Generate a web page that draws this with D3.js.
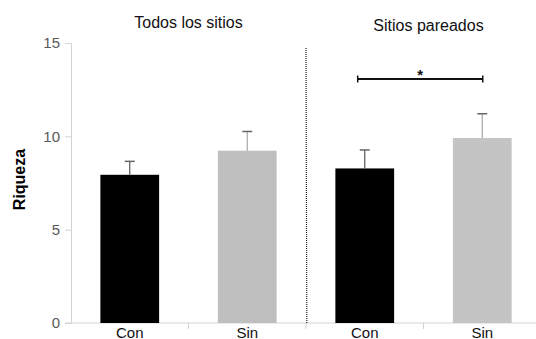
<!DOCTYPE html>
<html><head><meta charset="utf-8">
<script src="https://cdn.jsdelivr.net/npm/d3@7"></script>
<style>html,body{margin:0;padding:0;background:#fff;}svg{display:block;font-family:"Liberation Sans",Arial,sans-serif;}</style>
</head><body>
<svg id="c" width="536" height="339"></svg>
<script>
const categories = ["Con", "Sin", "Con", "Sin"];
const groupTitles = ["Todos los sitios", "Sitios pareados"];
const means = [7.94, 9.23, 8.28, 9.91];
const errors = [0.72, 1.03, 0.99, 1.30];
const yTicks = [0, 5, 10, 15];
const yLabel = "Riqueza";
const sigLabel = "*";
const barColors = ["#000000", "#bfbfbf", "#000000", "#c4c4c4"];

const svg = d3.select("#c");
const keys = categories.map((c, i) => i);
const x = d3.scaleBand().domain(keys).range([71, 541]).paddingInner(0.5).paddingOuter(0.25);
const y = d3.scaleLinear().domain([0, 15]).range([323, 43]);
const step = x.step();
const axisColor = "#d4d4d4";

// y axis
const yAxis = svg.append("g").attr("transform", "translate(71,0)")
  .call(d3.axisLeft(y).tickValues(yTicks).tickSize(6).tickPadding(5));
yAxis.select(".domain").attr("stroke", axisColor);
yAxis.selectAll(".tick line").attr("stroke", axisColor);
yAxis.selectAll("text").attr("fill", "#595959").style("font-size", "15px").style("font-family", "Liberation Sans, Arial, sans-serif");

// x axis line
svg.append("line").attr("x1", 65).attr("x2", 536).attr("y1", y(0)).attr("y2", y(0)).attr("stroke", axisColor);
// ticks between categories
svg.selectAll(".xt").data(keys.slice(1)).enter().append("line")
  .attr("x1", d => x(d) - (step - x.bandwidth()) / 2)
  .attr("x2", d => x(d) - (step - x.bandwidth()) / 2)
  .attr("y1", y(0)).attr("y2", y(0) + 6).attr("stroke", axisColor);

// category labels
svg.selectAll(".xl").data(keys).enter().append("text")
  .attr("x", d => x(d) + x.bandwidth() / 2).attr("y", 337.5)
  .attr("text-anchor", "middle").attr("fill", "#111").style("font-size", "15px")
  .text(d => categories[d]);

// bars
svg.selectAll(".bar").data(keys).enter().append("rect")
  .attr("x", d => x(d)).attr("width", x.bandwidth())
  .attr("y", d => y(means[d])).attr("height", d => y(0) - y(means[d]))
  .attr("fill", d => barColors[d]);

// error bars
keys.forEach(d => {
  const cx = x(d) + x.bandwidth() / 2;
  const stemColor = d % 2 === 0 ? "#555" : "#a6a6a6";
  svg.append("line").attr("x1", cx).attr("x2", cx)
    .attr("y1", y(means[d])).attr("y2", y(means[d] + errors[d]))
    .attr("stroke", stemColor).attr("stroke-width", 1.2);
  svg.append("line").attr("x1", cx - 5).attr("x2", cx + 5)
    .attr("y1", y(means[d] + errors[d])).attr("y2", y(means[d] + errors[d]))
    .attr("stroke", "#666").attr("stroke-width", 1.5);
});

// divider (dotted)
const divX = x(2) - (step - x.bandwidth()) / 2;
svg.append("line").attr("x1", divX).attr("x2", divX + 0.8).attr("y1", 48).attr("y2", y(0))
  .attr("stroke", "#222").attr("stroke-width", 1.2).attr("stroke-dasharray", "1,1");

// group titles
const titleX = [ (x(0) + x(1) + x.bandwidth()) / 2, (x(2) + x(3) + x.bandwidth()) / 2 + 5 ];
const titleY = [27.5, 31];
groupTitles.forEach((t, i) => {
  svg.append("text").attr("x", titleX[i]).attr("y", titleY[i]).attr("text-anchor", "middle")
    .attr("fill", "#111").style("font-size", "16px").text(t);
});

// significance bracket
const bx1 = x(2) + x.bandwidth() * 0.38, bx2 = x(3) + x.bandwidth() / 2 + 0.5;
const by = 79;
svg.append("line").attr("x1", bx1).attr("x2", bx2).attr("y1", by).attr("y2", by).attr("stroke", "#111").attr("stroke-width", 1.8);
[bx1, bx2].forEach(bx => svg.append("line").attr("x1", bx).attr("x2", bx).attr("y1", by - 3.5).attr("y2", by + 3.5).attr("stroke", "#111").attr("stroke-width", 1.5));
svg.append("text").attr("x", (bx1 + bx2) / 2).attr("y", 80).attr("text-anchor", "middle")
  .attr("fill", "#111").style("font-size", "15px").style("font-weight", "bold").text(sigLabel);

// y label
svg.append("text").attr("transform", "translate(24.5,179.5) rotate(-90)").attr("text-anchor", "middle")
  .attr("fill", "#000").style("font-size", "16px").style("font-weight", "bold").text(yLabel);
</script>
</body></html>
